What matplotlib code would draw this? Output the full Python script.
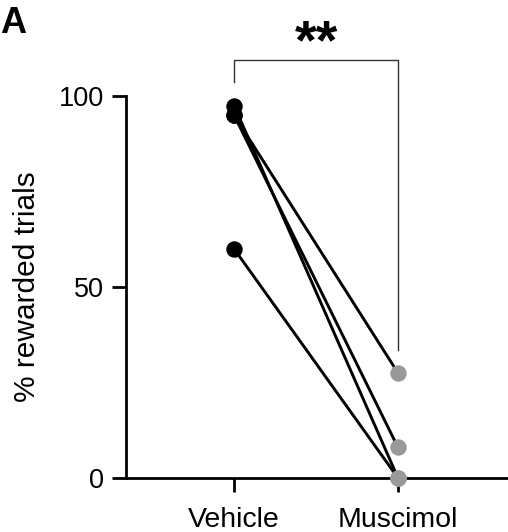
import matplotlib
matplotlib.use("Agg")
import matplotlib.pyplot as plt

# paired values, one entry per animal
conditions = ["Vehicle", "Muscimol"]
vehicle = [97.5, 95, 95, 60]
muscimol = [0, 8, 27.5, 0]
y_ticks = [0, 50, 100]

plt.rcParams['font.family'] = ['Liberation Sans', 'DejaVu Sans']

fig = plt.figure(figsize=(5.08, 5.32), dpi=100)
ax = fig.add_axes([126/508, 54/532, 382/508, 382/532])

xs = [0, 1]
for v, m in zip(vehicle, muscimol):
    ax.plot(xs, [v, m], color='black', lw=2.1, zorder=2, clip_on=False)
ax.scatter([0]*len(vehicle), vehicle, s=140, color='black', zorder=3, clip_on=False, linewidths=0)
ax.scatter([1]*len(muscimol), muscimol, s=140, color='#999999', zorder=3, clip_on=False, linewidths=0)

ax.set_xlim(-0.659, 1.671)
ax.set_ylim(0, 100)
ax.set_xticks(xs)
ax.set_xticklabels(conditions, fontsize=20.5)
ax.set_yticks(y_ticks)
ax.set_yticklabels([str(t) for t in y_ticks], fontsize=19.5)
ax.tick_params(axis='x', length=10, width=2, pad=11)
ax.tick_params(axis='y', length=10, width=2, pad=6)

for s in ['top', 'right']:
    ax.spines[s].set_visible(False)
for s in ['left', 'bottom']:
    ax.spines[s].set_linewidth(2)

ax.set_ylabel("% rewarded trials", fontsize=21.5)
ax.yaxis.set_label_coords(-0.222, 0.5)

# significance bracket
ax.plot([0, 0, 1, 1], [103.7, 109.4, 109.4, 33.5], color='#333333', lw=1,
        clip_on=False, zorder=1)
ax.text(0.5, 110, "**", fontsize=40, fontweight='bold', ha='center',
        va='baseline', transform=ax.transData, clip_on=False)

fig.text(0.0, 1 - 33/532, "A", fontsize=26, fontweight='bold', ha='left', va='baseline')

fig.savefig("out.png", dpi=100)
